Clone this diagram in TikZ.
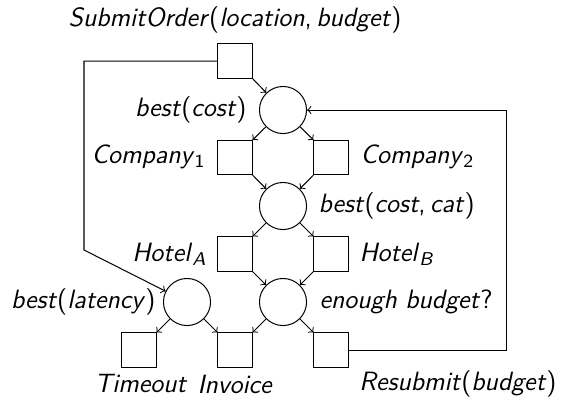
\documentclass[tikz,border=0pt]{standalone}
\begin{document}
\begin{tikzpicture}[x=0.446pt,y=-0.446pt,
  box/.style={draw,rectangle,minimum size=15.2pt,inner sep=0pt},
  place/.style={draw,circle,minimum size=21pt,inner sep=0pt},
  lbl/.style={font=\fontsize{11.8}{14}\sffamily,inner sep=0pt},
  arr/.style={-to,line width=0.45pt},
  every path/.style={line width=0.45pt}]
\useasboundingbox (0,0) rectangle (561,401);
% nodes
\node[box] (submit) at (235,61) {};
\node[place] (bc) at (283,110) {};
\node[box] (comp1) at (235,157.5) {};
\node[box] (comp2) at (331,157.5) {};
\node[place] (bcc) at (283,206) {};
\node[box] (hotA) at (235,254) {};
\node[box] (hotB) at (331,254) {};
\node[place] (lat) at (187,302) {};
\node[place] (eb) at (283,302) {};
\node[box] (tout) at (139,350) {};
\node[box] (inv) at (235,350) {};
\node[box] (resub) at (331,350) {};
% labels
\node[lbl] (lsubmit) at (235,20) {\textit{SubmitOrder}(\textit{location},\,\textit{budget})};
\node[lbl,anchor=east] (lbc) at (247,110) {\textit{best}(\textit{cost})};
\node[lbl,anchor=east] (lcomp1) at (206,157) {\textit{Company}\textsubscript{1}};
\node[lbl,anchor=west] (lcomp2) at (360,157) {\textit{Company}\textsubscript{2}};
\node[lbl,anchor=west] (lbcc) at (318,206) {\textit{best}(\textit{cost},\,\textit{cat})};
\node[lbl,anchor=east] (lhotA) at (207,254) {\textit{Hotel}\textsubscript{\textit{A}}};
\node[lbl,anchor=west] (lhotB) at (359,254) {\textit{Hotel}\textsubscript{\textit{B}}};
\node[lbl,anchor=east] (llat) at (156,302) {\textit{best}(\textit{latency})};
\node[lbl,anchor=west] (leb) at (319,302) {\textit{enough budget}?};
\node[lbl] (ltout) at (141,384) {\textit{Timeout}};
\node[lbl,anchor=west] (linv) at (197,384) {\textit{Invoice}};
\node[lbl,anchor=east] (lresub) at (557,384) {\textit{Resubmit}(\textit{budget})};
% coordinates
\coordinate (l1) at (84,61);
\coordinate (l2) at (84,250);
\coordinate (r1) at (506,350);
\coordinate (r2) at (506,110);
% connectors
\draw[arr] (submit.south east) -- (bc);
\draw[arr] (bc) -- (comp1.north east);
\draw[arr] (bc) -- (comp2.north west);
\draw[arr] (comp1.south east) -- (bcc);
\draw[arr] (comp2.south west) -- (bcc);
\draw[arr] (bcc) -- (hotA.north east);
\draw[arr] (bcc) -- (hotB.north west);
\draw[arr] (hotA.south east) -- (eb);
\draw[arr] (hotB.south west) -- (eb);
\draw[arr] (lat) -- (tout.north east);
\draw[arr] (lat) -- (inv.north west);
\draw[arr] (eb) -- (inv.north east);
\draw[arr] (eb) -- (resub.north west);
\draw[arr] (submit.west) -- (l1) -- (l2) -- (lat);
\draw[arr] (resub.east) -- (r1) -- (r2) -- (bc.east);
\end{tikzpicture}
\end{document}
